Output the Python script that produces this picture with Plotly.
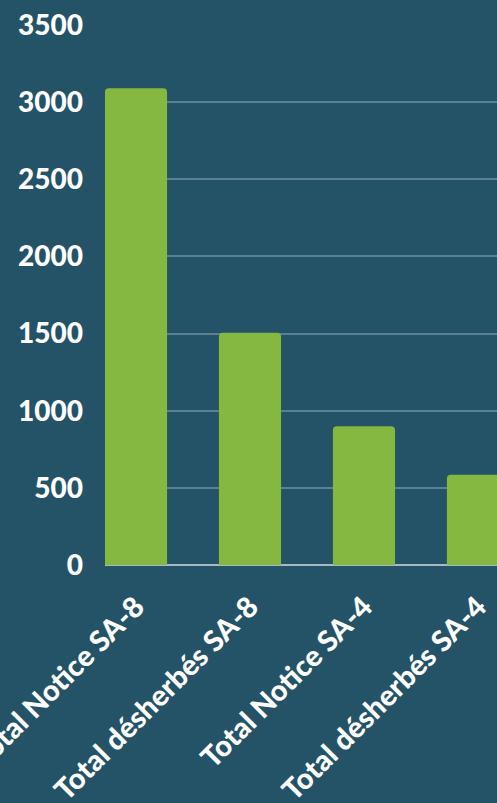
import plotly.graph_objects as go

# ── data ─────────────────────────────────────────────────────────────────────
categories = ["Total Notice SA-8", "Total désherbés SA-8", "Total Notice SA-4", "Total désherbés SA-4"]
values = [3090, 1505, 900, 585]
y_ticks = [0, 500, 1000, 1500, 2000, 2500, 3000, 3500]

# ── colours ──────────────────────────────────────────────────────────────────
BG = "#245367"
BAR = "#84b840"
GRID = "#5a8193"
ZERO = "#a7b9c2"
TEXT = "#ffffff"
FONT = "Lato"

fig = go.Figure(go.Bar(
    x=categories, y=values,
    marker=dict(color=BAR, line_width=0, cornerradius=4),
    width=0.545,
))

fig.update_layout(
    width=497, height=803,
    paper_bgcolor=BG, plot_bgcolor=BG,
    margin=dict(l=105, r=0, t=25, b=238, pad=0),
    showlegend=False,
    font=dict(family=FONT, color=TEXT, size=28, weight=900),
)

fig.update_xaxes(
    range=[-0.272, 3.167],
    tickangle=-45,
    tickfont=dict(family=FONT, size=29, color=TEXT, weight=900),
    showgrid=False, showline=False, zeroline=False,
    ticks="", ticklabelstandoff=18,
    automargin=False,
)
fig.update_yaxes(
    range=[0, 3500],
    tickvals=y_ticks,
    tickfont=dict(family=FONT, size=28, color=TEXT, weight=900),
    showgrid=True, gridcolor=GRID, gridwidth=1.5,
    zeroline=True, zerolinecolor=ZERO, zerolinewidth=2,
    showline=False, ticks="", ticklabelstandoff=21,
    automargin=False,
)

fig.write_html(
    "out.html",
    config={"displayModeBar": False},
    post_script="document.body.style.margin='0';",
)
